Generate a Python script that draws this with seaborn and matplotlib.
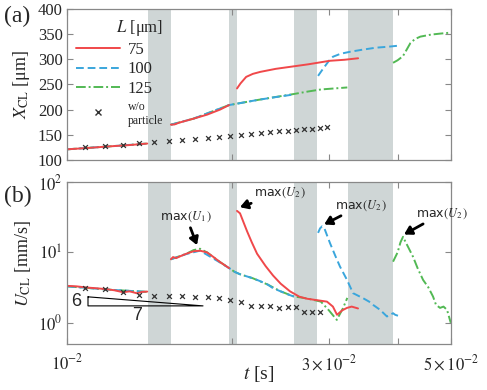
import numpy as np
import pandas as pd
import matplotlib
matplotlib.use("Agg")
import matplotlib.pyplot as plt
from matplotlib.lines import Line2D
from matplotlib.ticker import FixedLocator, NullLocator
import seaborn as sns

sns.set_style("ticks")
plt.rcParams["font.family"] = ["Liberation Serif", "DejaVu Serif"]
plt.rcParams["mathtext.fontset"] = "stix"

# ---------------------------------------------------------------
# data (t in s)
# ---------------------------------------------------------------
# shaded intervals
gray_spans = [(0.01405, 0.01546), (0.01973, 0.02040), (0.02592, 0.02854), (0.03249, 0.03925)]

# (a) contact line position X_CL [um]
red_x1_t = [0.0100, 0.0110, 0.0120, 0.0130, 0.0140]
red_x1_v = [121, 124, 127, 129.5, 132.5]
red_x2_t = [0.01546, 0.0157, 0.0160, 0.0170, 0.0180, 0.0190, 0.01973]
red_x2_v = [170, 170.5, 174, 182, 190, 200, 209]
red_x3_t = [0.0204, 0.0207, 0.0212, 0.0218, 0.0225, 0.0240, 0.0255, 0.0275, 0.0301, 0.0320, 0.0339]
red_x3_v = [242, 252, 265, 271, 275, 281, 285, 290, 297, 299, 302]

blue_x1_t = [0.0100, 0.0120, 0.0140]
blue_x1_v = [121, 127, 132.5]
blue_x2_t = [0.01546, 0.0170, 0.01973, 0.0207, 0.0222, 0.0237, 0.0255, 0.0259]
blue_x2_v = [170, 182, 209, 213, 219, 224, 229, 231]
blue_x3_t = [0.02866, 0.0293, 0.0300, 0.0305, 0.0315, 0.0328, 0.0345, 0.0365, 0.0385, 0.0401]
blue_x3_v = [267, 282, 297, 305, 311, 315, 319, 323, 325, 327]

green_x1_t = [0.0100, 0.0120, 0.0140]
green_x1_v = [121, 127, 132.5]
green_x2_t = [0.01546, 0.0170, 0.01973, 0.0222, 0.0259, 0.0275, 0.0290, 0.0324]
green_x2_v = [170, 182, 209, 219, 231, 236, 240, 244]
green_x3_t = [0.03925, 0.0400, 0.0409, 0.0415, 0.0422, 0.0430, 0.0440, 0.0460, 0.0478, 0.0500]
green_x3_v = [293, 298, 306, 318, 332, 340, 345, 349, 351, 353]

# w/o particle
ref_t = [0.01078, 0.01173, 0.01265, 0.01352, 0.01440, 0.01534, 0.01620, 0.01711, 0.01806, 0.01891, 0.01981,
         0.02074, 0.02164, 0.02256, 0.02343, 0.02433, 0.02526, 0.02612, 0.02702, 0.02794, 0.02889, 0.02975]
ref_x = [126, 128, 130, 133, 136, 138, 140, 142, 144, 146, 148,
         150, 152, 153, 155, 157, 158, 160, 161, 162, 163, 165]
ref_u = [3.16, 3.03, 2.75, 2.5, 2.42, 2.42, 2.39, 2.33, 2.29, 2.26, 2.12,
         1.98, 1.76, 1.74, 1.74, 1.65, 1.69, 1.69, 1.43, 1.43, 1.43]

# (b) contact line velocity U_CL [mm/s]
red_u1_t = [0.0100, 0.0104, 0.01087, 0.0113, 0.01183, 0.0122, 0.01265, 0.0130, 0.01341, 0.0137, 0.0140]
red_u1_v = [3.35, 3.3, 3.17, 3.1, 3.0, 2.9, 2.72, 2.8, 2.63, 2.75, 2.78]
red_u2_t = [0.01546, 0.0156, 0.0158, 0.01606, 0.0165, 0.0170, 0.01747, 0.0180, 0.01845, 0.0190, 0.01973]
red_u2_v = [8.0, 8.6, 8.3, 8.8, 9.6, 10.4, 10.6, 10.0, 8.7, 7.3, 6.0]
red_u3_t = [0.0204, 0.02066, 0.0210, 0.02128, 0.0217, 0.02219, 0.0230, 0.02373, 0.0245, 0.02548,
            0.0265, 0.02736, 0.0285, 0.02975, 0.0305, 0.03103, 0.0317, 0.03236, 0.0330, 0.03389]
red_u3_v = [39, 36, 26, 20, 14, 9.6, 6.4, 4.7, 3.6, 2.8,
            2.35, 2.2, 2.1, 2.0, 1.7, 1.3, 1.5, 1.63, 1.7, 1.6]

blue_u1_t = [0.0100, 0.0120, 0.0140]
blue_u1_v = [3.3, 2.95, 2.75]
blue_u2_t = [0.01546, 0.0165, 0.01747, 0.0190, 0.01973, 0.0202, 0.02066,
             0.0212, 0.0218, 0.0225, 0.0232, 0.02373, 0.0245, 0.0252, 0.0259]
blue_u2_v = [8.0, 9.5, 10.6, 7.2, 6.0, 5.3, 4.9,
             4.6, 4.3, 3.9, 3.5, 3.1, 2.8, 2.55, 2.36]
blue_u3_t = [0.02866, 0.0289, 0.02914, 0.0294, 0.0298, 0.03014, 0.0308, 0.03142, 0.03236, 0.03319,
             0.0340, 0.03461, 0.0355, 0.03609, 0.03717, 0.03826, 0.0388, 0.03925, 0.0396, 0.04007]
blue_u3_v = [19, 22, 23.5, 22.5, 17, 13.5, 9, 6.3, 4.07, 2.64,
             2.4, 2.24, 2.0, 1.8, 1.53, 1.23, 1.3, 1.37, 1.3, 1.26]

green_u1_t = [0.0100, 0.0120, 0.0140]
green_u1_v = [3.3, 2.95, 2.75]
green_u2_t = [0.01546, 0.0165, 0.0170, 0.01747, 0.0180, 0.0190, 0.01973,
              0.0202, 0.02066, 0.0218, 0.0232, 0.0245, 0.0259, 0.0266, 0.0275, 0.0290, 0.0300,
              0.0310, 0.0318, 0.0324]
green_u2_v = [8.0, 9.6, 10.8, 11.3, 10.0, 7.3, 6.0,
              5.3, 4.9, 4.3, 3.5, 2.8, 2.36, 2.3, 2.2, 2.0, 1.5,
              1.1, 1.6, 2.26]
green_u3_t = [0.03925, 0.0400, 0.0405, 0.04093, 0.0412, 0.04268, 0.0435, 0.04452, 0.0455, 0.04642,
              0.0470, 0.0478, 0.0485, 0.04922, 0.0500]
green_u3_v = [7.4, 10, 14, 16.7, 15, 8.7, 6, 4.07, 3.2, 2.36,
              1.8, 1.63, 1.7, 1.53, 1.0]

RED = "#f0484a"
BLUE = "#3aa6dc"
GREEN = "#52b954"
GRAY = "#cfd6d6"

styles = {
    "red": dict(color=RED, linestyle="-", linewidth=1.4),
    "blue": dict(color=BLUE, linestyle=(0, (4, 2)), linewidth=1.4),
    "green": dict(color=GREEN, linestyle=(0, (5, 1.5, 1, 1.5)), linewidth=1.4),
}

fig = plt.figure(figsize=(4.87, 3.9), dpi=100)
ax1 = fig.add_axes([0.1376, 0.590, 0.788, 0.387])
ax2 = fig.add_axes([0.1376, 0.118, 0.788, 0.415])


def draw(ax, segs):
    for name, t, v in segs:
        sns.lineplot(x=t, y=v, ax=ax, estimator=None, sort=False, **styles[name])


for ax in (ax1, ax2):
    for a, b in gray_spans:
        ax.axvspan(a, b, color=GRAY, lw=0, zorder=0)

# (a)
draw(ax1, [("green", green_x1_t, green_x1_v), ("green", green_x2_t, green_x2_v),
           ("green", green_x3_t, green_x3_v),
           ("blue", blue_x1_t, blue_x1_v), ("blue", blue_x2_t, blue_x2_v),
           ("blue", blue_x3_t, blue_x3_v),
           ("red", red_x1_t, red_x1_v), ("red", red_x2_t, red_x2_v), ("red", red_x3_t, red_x3_v)])
sns.scatterplot(x=ref_t, y=ref_x, ax=ax1, marker="x", color="#333333", s=12, linewidth=0.9, zorder=5)

# (b)
draw(ax2, [("green", green_u1_t, green_u1_v), ("green", green_u2_t, green_u2_v),
           ("green", green_u3_t, green_u3_v),
           ("blue", blue_u1_t, blue_u1_v), ("blue", blue_u2_t, blue_u2_v),
           ("blue", blue_u3_t, blue_u3_v),
           ("red", red_u1_t, red_u1_v), ("red", red_u2_t, red_u2_v), ("red", red_u3_t, red_u3_v)])
sns.scatterplot(x=ref_t[:len(ref_u)], y=ref_u, ax=ax2, marker="x", color="#333333", s=12,
                linewidth=0.9, zorder=5)

# axes formatting
for ax in (ax1, ax2):
    ax.set_xscale("log")
    ax.set_xlim(0.01, 0.05)
    ax.xaxis.set_major_locator(FixedLocator([0.01, 0.02, 0.03, 0.04, 0.05]))
    ax.xaxis.set_minor_locator(NullLocator())
    ax.tick_params(direction="in", top=True, right=True, length=4, width=0.8,
                   color="#888888", labelsize=12, pad=3)
    for sp in ax.spines.values():
        sp.set_color("#888888")
        sp.set_linewidth(0.9)
    ax.set_xlabel("")

ax1.set_ylim(100, 400)
ax1.set_yticks([100, 150, 200, 250, 300, 350, 400])
ax1.set_xticklabels([])
ax1.set_ylabel(r"$X_{\mathrm{CL}}$ [μm]", fontsize=13, labelpad=4)

ax2.set_yscale("log")
ax2.set_ylim(0.5, 100)
ax2.yaxis.set_major_locator(FixedLocator([1, 10, 100]))
ax2.yaxis.set_minor_locator(NullLocator())
ax2.set_yticklabels([r"$10^{0}$", r"$10^{1}$", r"$10^{2}$"])
ax2.set_xticklabels([r"$10^{-2}$", "", r"$3\times10^{-2}$", "", r"$5\times10^{-2}$"])
ax2.tick_params(axis="x", pad=7)
ax2.set_ylabel(r"$U_{\mathrm{CL}}$ [mm/s]", fontsize=13, labelpad=4)
ax2.set_xlabel(r"$t$ [s]", fontsize=14)
ax2.xaxis.set_label_coords(0.5, -0.125)

# legend
handles = [Line2D([], [], **styles["red"]), Line2D([], [], **styles["blue"]),
           Line2D([], [], **styles["green"]),
           Line2D([], [], marker="x", color="#333333", linestyle="none", markersize=4)]
leg = ax1.legend(handles, ["75", "100", "125", "w/o\nparticle"], title=r"$L$ [μm]",
                 loc="upper left", frameon=False, fontsize=12, title_fontsize=12,
                 handlelength=2.6, handletextpad=0.5, labelspacing=0.22,
                 borderaxespad=0.15, bbox_to_anchor=(0.0, 1.0))
leg.get_texts()[3].set_fontsize(8.5)
leg._legend_box.align = "right"

# panel labels
fig.text(0.008, 0.957, "(a)", fontsize=17, ha="left", va="center")
fig.text(0.008, 0.497, "(b)", fontsize=17, ha="left", va="center")

# annotations
arrow = dict(arrowstyle="-|>,head_length=0.5,head_width=0.3", color="black", lw=2.0,
             shrinkA=0, shrinkB=0)
afont = dict(fontsize=9, family=["DejaVu Sans"])
ax2.annotate(r"max$(U_1\,)$", xy=(0.01725, 12.7), xytext=(0.01650, 25), ha="center", va="bottom",
             arrowprops=arrow, **afont)
ax2.annotate(r"max$(U_2\,)$", xy=(0.02065, 44), xytext=(0.02195, 70), ha="left", va="center",
             arrowprops=arrow, **afont)
ax2.annotate(r"max$(U_2\,)$", xy=(0.02940, 25), xytext=(0.03080, 47), ha="left", va="center",
             arrowprops=arrow, **afont)
ax2.annotate(r"max$(U_2\,)$", xy=(0.04110, 18), xytext=(0.04320, 36), ha="left", va="center",
             arrowprops=arrow, **afont)

# slope triangle 6/7
tri_t = [0.01092, 0.01092, 0.01769, 0.01092]
tri_u = [2.34, 1.74, 1.74, 2.34]
ax2.plot(tri_t, tri_u, color="black", lw=0.8)
ax2.text(0.01040, 2.02, "6", fontsize=13, family=["Liberation Sans"], ha="center", va="center")
ax2.text(0.01340, 1.28, "7", fontsize=13, family=["Liberation Sans"], ha="center", va="center")

fig.savefig("out.png", dpi=100)
